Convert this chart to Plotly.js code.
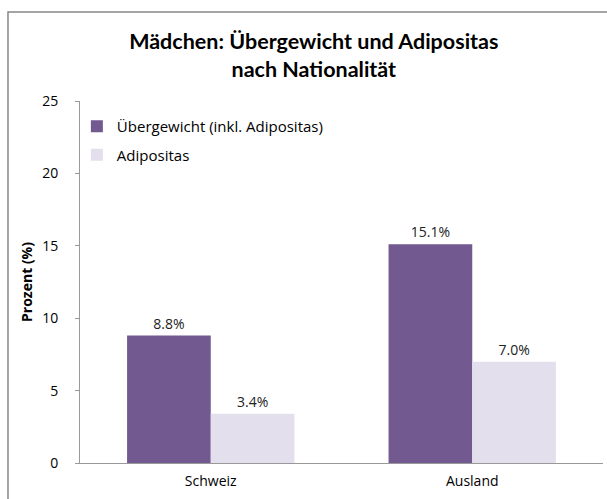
<!DOCTYPE html>
<html>
<head>
<meta charset="utf-8">
<script src="https://cdn.plot.ly/plotly-3.0.1.min.js"></script>
<style>html,body{margin:0;padding:0;background:#fff;}#chart{width:607px;height:499px;}</style>
</head>
<body>
<div id="chart"></div>
<script>
var categories = ["Schweiz", "Ausland"];
var seriesNames = ["Übergewicht (inkl. Adipositas)", "Adipositas"];
var uebergewicht = [8.8, 15.1];
var adipositas = [3.4, 7.0];
var yTicks = [0, 5, 10, 15, 20, 25];

var FONT = "'Open Sans', sans-serif";
var TFONT = "Lato, 'Open Sans', sans-serif";

function lbl(arr) { return arr.map(function (v) { return v.toFixed(1) + "%"; }); }

var traces = [
  {
    type: "bar", name: seriesNames[0], x: categories, y: uebergewicht,
    marker: {color: "#72598F"}, legendgroup: "a",
    text: lbl(uebergewicht), textposition: "outside", cliponaxis: false,
    textfont: {family: FONT, size: 14, color: "#222"}, hoverinfo: "x+y"
  },
  {
    type: "bar", name: seriesNames[1], x: categories, y: adipositas,
    marker: {color: "#E4DFEC"}, legendgroup: "b",
    text: lbl(adipositas), textposition: "outside", cliponaxis: false,
    textfont: {family: FONT, size: 14, color: "#222"}, hoverinfo: "x+y"
  }
];

var layout = {
  width: 607, height: 499,
  margin: {l: 80, r: 4, t: 101, b: 36},
  paper_bgcolor: "#fff", plot_bgcolor: "#fff",
  font: {family: FONT, size: 14, color: "#000"},
  title: {
    text: "<b>Mädchen: Übergewicht und Adipositas<br>nach Nationalität</b>",
    font: {family: TFONT, size: 21.5, color: "#000"},
    xref: "container", x: 0.517, xanchor: "center",
    yref: "container", y: 0.901, yanchor: "middle"
  },
  barmode: "group", bargap: 0.36, bargroupgap: 0,
  xaxis: {
    type: "category", showline: true, linecolor: "#999", linewidth: 1,
    ticks: "", ticklabelstandoff: 5,
    tickfont: {family: FONT, size: 14, color: "#000"},
    showgrid: false, zeroline: false
  },
  yaxis: {
    range: [0, 25], tickvals: yTicks, showgrid: false, zeroline: false,
    showline: true, linecolor: "#999", linewidth: 1,
    ticks: "outside", ticklen: 4, tickcolor: "#999",
    ticklabelstandoff: 14,
    tickfont: {family: FONT, size: 14, color: "#000"},
    title: {text: "<b>Prozent (%)</b>", font: {family: FONT, size: 14, color: "#000"}, standoff: 6}
  },
  showlegend: true,
  legend: {
    x: -0.006, xanchor: "left", y: 0.975, yanchor: "top",
    bgcolor: "rgba(0,0,0,0)", traceorder: "grouped", tracegroupgap: 6,
    font: {family: FONT, size: 15, color: "#000"}
  },
  shapes: [{
    type: "rect", xref: "paper", yref: "paper",
    x0: -0.1377, x1: 1.05, y0: -0.2, y1: 1.2459,
    line: {color: "#888888", width: 1.5}, fillcolor: "rgba(0,0,0,0)", layer: "above"
  }]
};

Plotly.newPlot("chart", traces, layout, {displayModeBar: false, staticPlot: true});
</script>
</body>
</html>
